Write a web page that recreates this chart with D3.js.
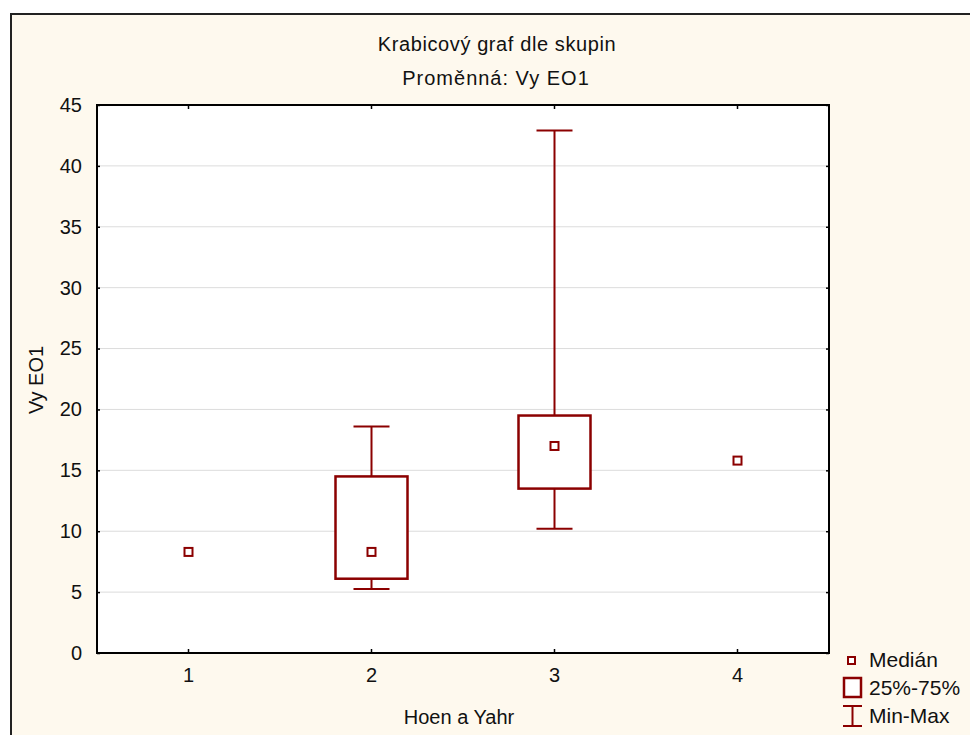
<!DOCTYPE html>
<html>
<head>
<meta charset="utf-8">
<script src="https://cdn.jsdelivr.net/npm/d3@7"></script>
<style>
  body { margin: 0; background: #fff; }
  svg { display: block; font-family: Arial, "Liberation Sans", sans-serif; }
</style>
</head>
<body>
<div id="chart"></div>
<script>
// data
const groups = ["1", "2", "3", "4"];
const medians = [8.3, 8.3, 17.0, 15.8];
const q1 = [null, 6.1, 13.5, null];
const q3 = [null, 14.5, 19.5, null];
const mins = [null, 5.25, 10.2, null];
const maxs = [null, 18.6, 42.9, null];
const yTicks = [0, 5, 10, 15, 20, 25, 30, 35, 40, 45];

const width = 970;
const height = 735;
const margin = { top: 105, right: 141, bottom: 82, left: 97 };
const red = "#8b0000";
const fs = 20;

const svg = d3.select("#chart")
  .append("svg")
  .attr("width", width)
  .attr("height", height);

// cream panel with dark border
svg.append("rect")
  .attr("x", 11).attr("y", 14)
  .attr("width", width + 10).attr("height", height + 10)
  .attr("fill", "#fef9ee")
  .attr("stroke", "#222")
  .attr("stroke-width", 2);

const x = d3.scaleBand()
  .domain(groups)
  .range([margin.left, width - margin.right]);

const y = d3.scaleLinear()
  .domain([0, 45])
  .range([height - margin.bottom, margin.top]);

const data = groups.map((g, i) => ({
  g, med: medians[i], q1: q1[i], q3: q3[i], min: mins[i], max: maxs[i]
}));

// plot area
svg.append("rect")
  .attr("x", margin.left).attr("y", margin.top)
  .attr("width", width - margin.left - margin.right)
  .attr("height", height - margin.top - margin.bottom)
  .attr("fill", "#fff");

// gridlines
svg.append("g")
  .selectAll("line")
  .data(yTicks.slice(1, -1))
  .join("line")
  .attr("x1", margin.left).attr("x2", width - margin.right)
  .attr("y1", d => y(d)).attr("y2", d => y(d))
  .attr("stroke", "#dcdcdc")
  .attr("stroke-width", 1);

// axes (ticks pointing inward)
const axisStyle = g => {
  g.select(".domain").remove();
  g.selectAll("line").attr("stroke", "#000").attr("stroke-width", 1.5);
  g.selectAll("text").attr("font-size", fs).attr("fill", "#111")
    .attr("font-family", "Arial, 'Liberation Sans', sans-serif");
};

svg.append("g")
  .attr("transform", `translate(${margin.left},0)`)
  .call(d3.axisLeft(y).tickValues(yTicks).tickSize(-3).tickPadding(15))
  .call(axisStyle);

svg.append("g")
  .attr("transform", `translate(${width - margin.right},0)`)
  .call(d3.axisRight(y).tickValues(yTicks).tickSize(-3).tickFormat(""))
  .call(axisStyle);

svg.append("g")
  .attr("transform", `translate(0,${height - margin.bottom})`)
  .call(d3.axisBottom(x).tickSize(-4).tickPadding(15))
  .call(axisStyle);

svg.append("g")
  .attr("transform", `translate(0,${margin.top})`)
  .call(d3.axisTop(x).tickSize(-4).tickFormat(""))
  .call(axisStyle);

// frame
svg.append("rect")
  .attr("x", margin.left).attr("y", margin.top)
  .attr("width", width - margin.left - margin.right)
  .attr("height", height - margin.top - margin.bottom)
  .attr("fill", "none")
  .attr("stroke", "#000")
  .attr("stroke-width", 2);

const cx = d => x(d.g) + x.bandwidth() / 2;
const boxW = 72;
const capW = 36;
const full = data.filter(d => d.q1 != null);

// whiskers
const wh = svg.append("g").attr("stroke", red).attr("stroke-width", 2);
wh.selectAll(".stem-top").data(full).join("line")
  .attr("x1", cx).attr("x2", cx)
  .attr("y1", d => y(d.q3)).attr("y2", d => y(d.max));
wh.selectAll(".stem-bot").data(full).join("line")
  .attr("x1", cx).attr("x2", cx)
  .attr("y1", d => y(d.q1)).attr("y2", d => y(d.min));
wh.selectAll(".cap-top").data(full).join("line")
  .attr("x1", d => cx(d) - capW / 2).attr("x2", d => cx(d) + capW / 2)
  .attr("y1", d => y(d.max)).attr("y2", d => y(d.max));
wh.selectAll(".cap-bot").data(full).join("line")
  .attr("x1", d => cx(d) - capW / 2).attr("x2", d => cx(d) + capW / 2)
  .attr("y1", d => y(d.min)).attr("y2", d => y(d.min));

// boxes
svg.append("g")
  .selectAll("rect")
  .data(full)
  .join("rect")
  .attr("x", d => cx(d) - boxW / 2)
  .attr("y", d => y(d.q3))
  .attr("width", boxW)
  .attr("height", d => y(d.q1) - y(d.q3))
  .attr("fill", "#fff")
  .attr("stroke", red)
  .attr("stroke-width", 2.5);

// medians
svg.append("g")
  .selectAll("rect")
  .data(data)
  .join("rect")
  .attr("x", d => cx(d) - 4)
  .attr("y", d => y(d.med) - 4)
  .attr("width", 8).attr("height", 8)
  .attr("fill", "#fff")
  .attr("stroke", red)
  .attr("stroke-width", 2);

// titles
svg.append("text")
  .attr("x", 497).attr("y", 51)
  .attr("text-anchor", "middle")
  .attr("font-size", fs)
  .attr("letter-spacing", 0.6)
  .attr("fill", "#111")
  .text("Krabicový graf dle skupin");

svg.append("text")
  .attr("x", 496).attr("y", 85)
  .attr("text-anchor", "middle")
  .attr("font-size", fs)
  .attr("letter-spacing", 1)
  .attr("fill", "#111")
  .text("Proměnná: Vy EO1");

svg.append("text")
  .attr("x", 459).attr("y", 724)
  .attr("text-anchor", "middle")
  .attr("font-size", fs)
  .attr("fill", "#111")
  .text("Hoen a Yahr");

svg.append("text")
  .attr("transform", "translate(43,380) rotate(-90)")
  .attr("text-anchor", "middle")
  .attr("font-size", fs)
  .attr("fill", "#111")
  .text("Vy EO1");

// legend
const legend = svg.append("g").attr("font-size", 21).attr("fill", "#111");

legend.append("rect")
  .attr("x", 848).attr("y", 657).attr("width", 7).attr("height", 7)
  .attr("fill", "#fff").attr("stroke", red).attr("stroke-width", 2);
legend.append("text").attr("x", 869).attr("y", 667).text("Medián");

legend.append("rect")
  .attr("x", 844).attr("y", 678).attr("width", 17).attr("height", 19)
  .attr("fill", "#fff").attr("stroke", red).attr("stroke-width", 2.5);
legend.append("text").attr("x", 869).attr("y", 695).text("25%-75%");

const mm = legend.append("g").attr("stroke", red).attr("stroke-width", 2);
mm.append("line").attr("x1", 843).attr("x2", 862).attr("y1", 706).attr("y2", 706);
mm.append("line").attr("x1", 852.5).attr("x2", 852.5).attr("y1", 706).attr("y2", 726);
mm.append("line").attr("x1", 843).attr("x2", 862).attr("y1", 726).attr("y2", 726);
legend.append("text").attr("x", 869).attr("y", 723).text("Min-Max");
</script>
</body>
</html>
